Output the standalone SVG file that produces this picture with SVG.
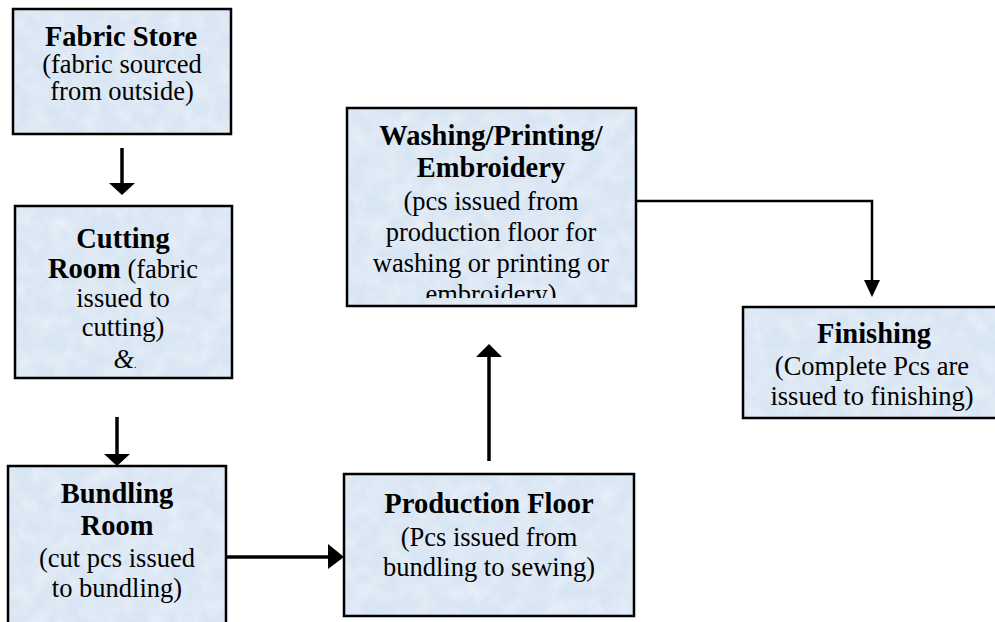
<svg xmlns="http://www.w3.org/2000/svg" width="995" height="622" viewBox="0 0 995 622">
<style>
.box{fill:#d8e5f3;stroke:#000;stroke-width:2.5}
.tx{fill:#000;filter:url(#tex)}
.b{font-family:"Liberation Serif","Times New Roman",serif;font-weight:bold;font-size:28.5px;fill:#000;text-anchor:middle}
.r{font-family:"Liberation Serif","Times New Roman",serif;font-size:26.5px;fill:#000;text-anchor:middle}
.ln{stroke:#000;stroke-width:3.5;fill:none}
.ln2{stroke:#000;stroke-width:2.5;fill:none}
.hd{fill:#000}
</style>
<defs>
<filter id="tex" x="0" y="0" width="100%" height="100%" color-interpolation-filters="sRGB">
<feTurbulence type="fractalNoise" baseFrequency="0.06" numOctaves="3" seed="7" result="n"/>
<feColorMatrix in="n" type="matrix" values="0 0 0 0 1  0 0 0 0 1  0 0 0 0 1  0.7 0 0 0 -0.22" result="w"/>
<feComposite in="w" in2="SourceGraphic" operator="in"/>
</filter>
<clipPath id="cw"><rect x="347" y="108" width="289" height="190"/></clipPath>
<clipPath id="cc"><rect x="15" y="206" width="217" height="167"/></clipPath>
</defs>
<g id="fabric-store">
<rect class="box" x="13" y="9" width="218" height="125"/>
<rect class="tx" x="15" y="11" width="214" height="121"/>
<text class="b" x="121" y="46">Fabric Store</text>
<text class="r" x="122" y="73">(fabric sourced</text>
<text class="r" x="122" y="100">from outside)</text>
</g>
<g id="cutting-room">
<rect class="box" x="15" y="206" width="217" height="172"/>
<rect class="tx" x="17" y="208" width="213" height="168"/>
<g clip-path="url(#cc)">
<text class="b" x="123" y="248">Cutting</text>
<text class="r" x="123" y="278"><tspan font-weight="bold" font-size="28.5">Room</tspan> (fabric</text>
<text class="r" x="123" y="307">issued to</text>
<text class="r" x="123" y="336">cutting)</text>
<text class="r" x="125" y="368"><tspan font-style="italic">&amp;</tspan><tspan font-size="10">.</tspan></text>
</g>
</g>
<g id="bundling-room">
<rect class="box" x="8" y="466" width="218" height="170"/>
<rect class="tx" x="10" y="468" width="214" height="166"/>
<text class="b" x="117" y="503" font-size="25.5">Bundling</text>
<text class="b" x="117" y="535" font-size="25.5">Room</text>
<text class="r" x="117" y="567">(cut pcs issued</text>
<text class="r" x="117" y="597">to bundling)</text>
</g>
<g id="production-floor">
<rect class="box" x="344" y="474" width="290" height="142"/>
<rect class="tx" x="346" y="476" width="286" height="138"/>
<text class="b" x="489" y="513">Production Floor</text>
<text class="r" x="489" y="546">(Pcs issued from</text>
<text class="r" x="489" y="576">bundling to sewing)</text>
</g>
<g id="washing">
<rect class="box" x="347" y="108" width="289" height="198"/>
<rect class="tx" x="349" y="110" width="285" height="194"/>
<g clip-path="url(#cw)">
<text class="b" x="491" y="145">Washing/Printing/</text>
<text class="b" x="491" y="177">Embroidery</text>
<text class="r" x="491" y="210">(pcs issued from</text>
<text class="r" x="491" y="241">production floor for</text>
<text class="r" x="491" y="272">washing or printing or</text>
<text class="r" x="491" y="303">embroidery)</text>
</g>
</g>
<g id="finishing">
<rect class="box" x="743" y="307" width="260" height="111"/>
<rect class="tx" x="745" y="309" width="250" height="107"/>
<text class="b" x="874" y="343" font-size="29">Finishing</text>
<text class="r" x="872" y="375" font-size="30">(Complete Pcs are</text>
<text class="r" x="872" y="405" font-size="30">issued to finishing)</text>
</g>
<g id="connectors">
<line class="ln" x1="122" y1="148" x2="122" y2="184"/>
<polygon class="hd" points="109,183 135,183 122,195"/>
<line class="ln" x1="117" y1="417" x2="117" y2="455"/>
<polygon class="hd" points="104,454 130,454 117,466"/>
<line class="ln" x1="226" y1="557" x2="330" y2="557"/>
<polygon class="hd" points="328,544 328,569 344,557"/>
<line class="ln" x1="489" y1="461" x2="489" y2="355"/>
<polygon class="hd" points="476,357 502,357 489,344"/>
<polyline class="ln2" points="636,201 872,201 872,282"/>
<polygon class="hd" points="864,280 880,280 872,297"/>
</g>
</svg>
